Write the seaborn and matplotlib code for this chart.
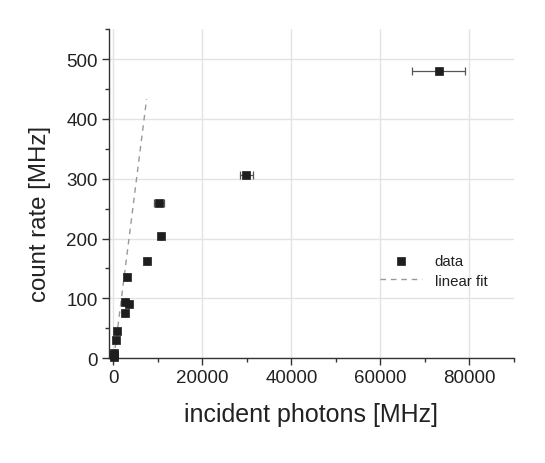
import matplotlib
matplotlib.use("Agg")
import matplotlib.pyplot as plt
import seaborn as sns
import numpy as np
import pandas as pd
from matplotlib.ticker import MultipleLocator

# data
incident = [50, 100, 150, 590, 740, 2610, 2540, 3510, 3150, 7480, 10790, 10180, 29900, 73100]
count_rate = [2, 5, 8, 31, 45, 76, 94, 91, 135, 162, 205, 259, 306, 480]
x_err = [0, 0, 0, 0, 0, 0, 0, 0, 0, 0, 0, 1100, 1400, 6000]

fit_x = [100, 7450]
fit_y = [0, 433]

sns.set_theme(style="white")
plt.rcParams['font.family'] = ['Liberation Sans', 'DejaVu Sans']

fig = plt.figure(figsize=(5.45, 4.64), dpi=100)
ax = fig.add_axes([0.2, 0.226, 0.743, 0.709])

df = pd.DataFrame({"x": incident, "y": count_rate, "xerr": x_err})
df_fit = pd.DataFrame({"x": fit_x, "y": fit_y})

ax.errorbar(df["x"], df["y"], xerr=df["xerr"], fmt="none", ecolor="#555555",
            elinewidth=0.9, capsize=3, capthick=0.9, zorder=2)
sns.scatterplot(data=df, x="x", y="y", marker="s", s=38, color="#1e1e1e",
                edgecolor="#1e1e1e", linewidth=0.5, ax=ax, zorder=3, label="data",
                clip_on=False)
sns.lineplot(data=df_fit, x="x", y="y", ax=ax, color="#999999", linewidth=1.0,
             linestyle=(0, (4, 3.5)), label="linear fit", zorder=2)

ax.set_xlim(-1000, 90000)
ax.set_ylim(0, 550)
ax.xaxis.set_major_locator(MultipleLocator(20000))
ax.xaxis.set_minor_locator(MultipleLocator(10000))
ax.yaxis.set_major_locator(MultipleLocator(100))
ax.yaxis.set_minor_locator(MultipleLocator(50))

ax.grid(True, which="major", color="#e3e3e3", linewidth=1.0)
ax.set_axisbelow(True)
for s in ["top", "right"]:
    ax.spines[s].set_visible(False)
for s in ["left", "bottom"]:
    ax.spines[s].set_color("#333333")
    ax.spines[s].set_linewidth(1.0)

ax.tick_params(which="major", direction="out", length=5, width=1, color="#333333",
               labelsize=13.5, labelcolor="#222222", left=True, bottom=True, pad=3)
ax.tick_params(which="minor", direction="out", length=3, width=1, color="#333333",
               left=True, bottom=True)

ax.set_xlabel("incident photons [MHz]", fontsize=18, color="#222222", labelpad=11)
ax.set_ylabel("count rate [MHz]", fontsize=17.3, color="#222222")
ax.yaxis.set_label_coords(-0.143, 0.44)

leg = ax.legend(loc="upper left", bbox_to_anchor=(0.654, 0.334), frameon=False,
                fontsize=10.8, handlelength=2.8, labelspacing=0.35, handletextpad=0.85,
                borderaxespad=0)
for t in leg.get_texts():
    t.set_color("#222222")

fig.savefig("out.png", dpi=100)
